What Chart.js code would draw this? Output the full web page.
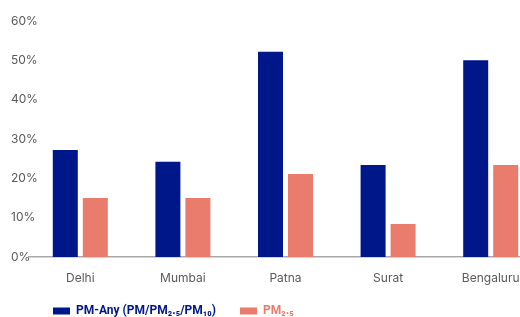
<!DOCTYPE html>
<html>
<head>
<meta charset="utf-8">
<script src="https://cdn.jsdelivr.net/npm/chart.js@4/dist/chart.umd.min.js"></script>
<style>
  html, body { margin: 0; padding: 0; background: #ffffff; overflow: hidden; width: 520px; height: 317px; }
  #wrap { width: 545px; height: 317px; }
</style>
</head>
<body>
<div id="wrap"><canvas id="c" width="545" height="317"></canvas></div>
<script>
const categories = ["Delhi", "Mumbai", "Patna", "Surat", "Bengaluru"];
const pmAny = [27.2, 24.2, 52.2, 23.4, 50.0];
const pm25 = [15.0, 15.0, 21.1, 8.4, 23.4];
const seriesNames = ["PM-Any (PM/PM\u2082.\u2085/PM\u2081\u2080)", "PM\u2082.\u2085"];
const seriesColors = ["#00178A", "#E97C6C"];
const yTicks = [0, 10, 20, 30, 40, 50, 60];

const canvas = document.getElementById('c');
const ctx = canvas.getContext('2d');
ctx.letterSpacing = '0.6px';

const legendNudge = {
  id: 'legendNudge',
  afterLayout(chart) {
    const lg = chart.legend;
    if (lg) { lg.top -= 18; lg.bottom -= 18; }
  }
};

new Chart(ctx, {
  type: 'bar',
  data: {
    labels: categories,
    datasets: [
      { label: seriesNames[0], data: pmAny, backgroundColor: seriesColors[0], categoryPercentage: 0.585, barPercentage: 0.833 },
      { label: seriesNames[1], data: pm25, backgroundColor: seriesColors[1], categoryPercentage: 0.585, barPercentage: 0.833 }
    ]
  },
  plugins: [legendNudge],
  options: {
    responsive: false,
    animation: false,
    layout: { padding: { top: 21, right: 3, bottom: -28, left: 29 } },
    scales: {
      x: {
        grid: { display: false, drawTicks: false },
        border: { display: true, color: '#A8A8A8', width: 1.5 },
        ticks: { color: '#595959', font: { family: 'Inter', size: 12 }, padding: 13.8 }
      },
      y: {
        min: yTicks[0],
        max: yTicks[yTicks.length - 1],
        afterBuildTicks: (s) => { s.ticks = yTicks.map(v => ({ value: v })); },
        grid: { display: false, drawTicks: false },
        border: { display: false },
        ticks: { mirror: true, crossAlign: 'near', color: '#595959', font: { family: 'Inter', size: 12 }, padding: -18, callback: (v) => v + '%' },
        afterFit: (s) => { s.width = 0; }
      }
    },
    plugins: {
      tooltip: { enabled: false },
      legend: {
        position: 'bottom',
        align: 'start',
        fullSize: false,
        labels: {
          boxWidth: 17,
          boxHeight: 7,
          padding: 24,
          font: { family: 'Roboto', size: 12, weight: 'bold' },
          generateLabels: (chart) => Chart.defaults.plugins.legend.labels.generateLabels(chart)
            .map((it, i) => Object.assign(it, { fontColor: seriesColors[i], lineWidth: 0 }))
        }
      }
    }
  }
});
</script>
</body>
</html>
